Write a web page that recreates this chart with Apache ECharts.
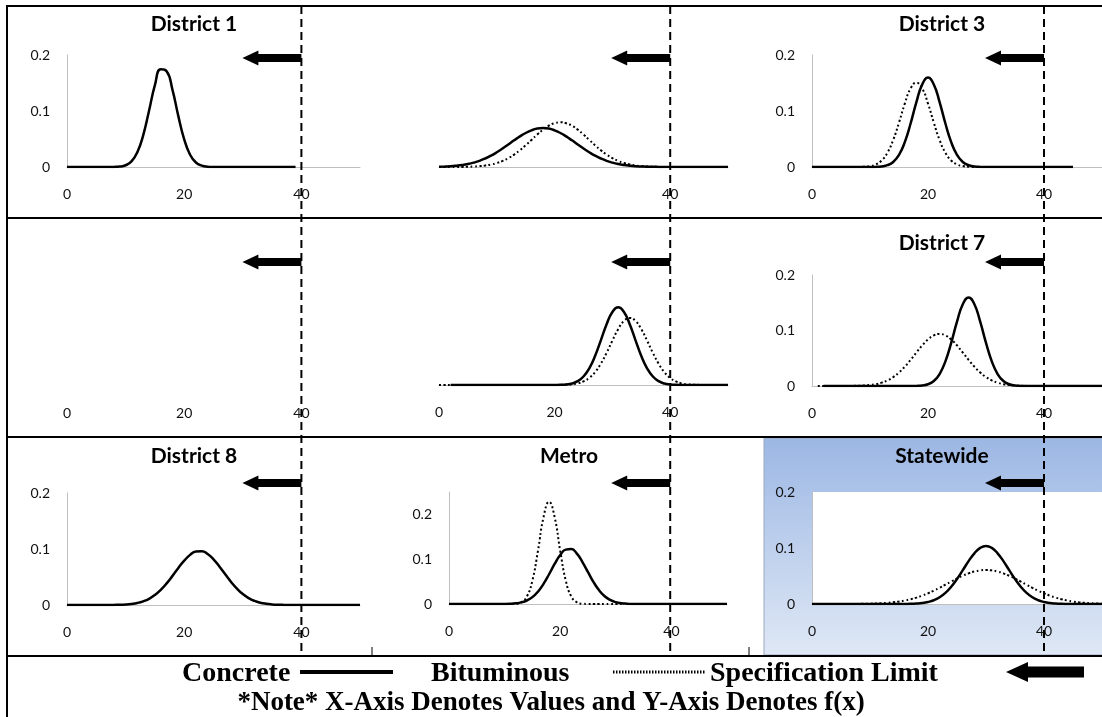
<!DOCTYPE html>
<html>
<head>
<meta charset="utf-8">
<script src="https://cdn.jsdelivr.net/npm/echarts@6/dist/echarts.min.js"></script>
<style>
html, body { margin: 0; padding: 0; background: #fff; }
#chart { width: 1102px; height: 717px; }
</style>
</head>
<body>
<div id="chart"></div>
<script>
// x values shared by every panel
var xs = [0,1,2,3,4,5,6,7,8,9,10,11,12,13,14,15,16,17,18,19,20,21,22,23,24,25,26,27,28,29,30,31,32,33,34,35,36,37,38,39,40,41,42,43,44,45,46,47,48,49,50];
var specLimit = 40;
var xTicks = [0, 20, 40];

// f(x) (null = no line there)
var d1Concrete = [0,0,0,0,0,0,0,0,0.0002,0.0008,0.0031,0.0099,0.0262,0.0566,0.1004,0.1461,0.1745,0.1711,0.1377,0.0909,0.0493,0.0219,0.0080,0.0024,0.0006,0.0001,0,0,0,0,0,0,0,0,0,0,0,0,0,0];

var d2Concrete = [0.0005,0.0009,0.0014,0.0023,0.0035,0.0053,0.0078,0.0110,0.0152,0.0203,0.0263,0.0330,0.0402,0.0476,0.0546,0.0607,0.0655,0.0686,0.0696,0.0686,0.0655,0.0607,0.0546,0.0476,0.0402,0.0330,0.0263,0.0203,0.0152,0.0110,0.0078,0.0053,0.0035,0.0023,0.0014,0.0009,0.0005,0.0003,0.0002,0.0001,0,0,0,0,0,0,0,0,0,0,0];
var d2Bitum = [0,0,0,0.0001,0.0002,0.0005,0.0009,0.0016,0.0027,0.0045,0.0071,0.0108,0.0158,0.0222,0.0299,0.0388,0.0484,0.0579,0.0667,0.0737,0.0782,0.0798,0.0782,0.0737,0.0667,0.0579,0.0484,0.0388,0.0299,0.0222,0.0158,0.0108,0.0071,0.0045,0.0027,0.0016,0.0009,0.0005,0.0002,0.0001,0];

var d3Concrete = [0,0,0,0,0,0,0,0,0,0,0,0.0002,0.0010,0.0032,0.0090,0.0216,0.0444,0.0777,0.1159,0.1473,0.1596,0.1473,0.1159,0.0777,0.0444,0.0216,0.0090,0.0032,0.0010,0.0002,0,0,0,0,0,0,0,0,0,0,0,0,0,0,0,0];
var d3Bitum = [null,null,null,null,null,null,null,null,0.0001,0.0005,0.0016,0.0046,0.0116,0.0254,0.0482,0.0793,0.1132,0.1402,0.1505,0.1402,0.1132,0.0793,0.0482,0.0254,0.0116,0.0046,0.0016,0.0005,0.0001];

var r2Concrete = [null,null,0,0,0,0,0,0,0,0,0,0,0,0,0,0,0,0,0,0,0.0001,0.0003,0.0010,0.0027,0.0069,0.0153,0.0300,0.0523,0.0805,0.1095,0.1316,0.1400,0.1316,0.1095,0.0805,0.0523,0.0300,0.0153,0.0069,0.0027,0.0010,0.0003,0.0001,0,0,0,0,0,0,0,0];
var r2Bitum = [0,0,0,0,0,0,0,0,0,0,0,0,0,0,0,0,0,0,0,0,0,0.0002,0.0005,0.0012,0.0029,0.0064,0.0127,0.0232,0.0384,0.0580,0.0800,0.1006,0.1155,0.1209,0.1155,0.1006,0.0800,0.0580,0.0384,0.0232,0.0127,0.0064,0.0029,0.0012,0.0005,0.0002,0,0,0,0,0];

var d7Concrete = [null,null,0,0,0,0,0,0,0,0,0,0,0,0,0,0,0,0,0.0002,0.0010,0.0032,0.0090,0.0216,0.0444,0.0777,0.1159,0.1473,0.1596,0.1473,0.1159,0.0777,0.0444,0.0216,0.0090,0.0032,0.0010,0.0002,0,0,0,0,0,0,0,0,0,0,0,0,0,0];
var d7Bitum = [null,0,0,0,0,0,0.0001,0.0002,0.0004,0.0009,0.0018,0.0033,0.0060,0.0101,0.0161,0.0243,0.0348,0.0471,0.0603,0.0731,0.0839,0.0912,0.0937,0.0912,0.0839,0.0731,0.0603,0.0471,0.0348,0.0243,0.0161,0.0101,0.0060,0.0033,0.0018,0.0009,0.0004,0.0002,0.0001,0,0,0,0,0,0,0,0,0,0,0,0];

var d8Concrete = [0,0,0,0,0,0,0,0.0001,0.0002,0.0004,0.0009,0.0019,0.0036,0.0066,0.0111,0.0179,0.0271,0.0386,0.0520,0.0661,0.0791,0.0895,0.0954,0.0959,0.0910,0.0815,0.0688,0.0548,0.0412,0.0292,0.0195,0.0123,0.0073,0.0041,0.0022,0.0011,0.0005,0.0002,0.0001,0,0,0,0,0,0,0,0,0,0,0,0];

var metroConcrete = [0,0,0,0,0,0,0,0,0,0.0001,0.0002,0.0006,0.0015,0.0036,0.0078,0.0153,0.0275,0.0448,0.0664,0.0893,0.1092,0.1214,0.1226,0.1124,0.0937,0.0710,0.0488,0.0305,0.0174,0.0090,0.0042,0.0018,0.0007,0.0002,0.0001,0,0,0,0,0,0,0,0,0,0,0,0,0,0,0,0];
var metroBitum = [0,0,0,0,0,0,0,0,0,0,0,0.0001,0.0006,0.0039,0.0167,0.0525,0.1187,0.1936,0.2280,0.1936,0.1187,0.0525,0.0167,0.0039,0.0006,0.0001,0,0,0,0,0,0];

var stateConcrete = [0,0,0,0,0,0,0,0,0,0,0,0,0,0,0,0,0.0001,0.0003,0.0008,0.0017,0.0036,0.0067,0.0120,0.0198,0.0308,0.0446,0.0604,0.0765,0.0905,0.1002,0.1036,0.1002,0.0905,0.0765,0.0604,0.0446,0.0308,0.0198,0.0120,0.0067,0.0036,0.0017,0.0008,0.0003,0.0001,0,0,0,0,0,0];
var stateBitum = [0,0,0,0,0,0,0,0.0001,0.0002,0.0004,0.0006,0.0009,0.0014,0.0021,0.0031,0.0045,0.0063,0.0086,0.0114,0.0149,0.0191,0.0238,0.0289,0.0344,0.0400,0.0454,0.0504,0.0547,0.0580,0.0600,0.0607,0.0600,0.0580,0.0547,0.0504,0.0454,0.0400,0.0344,0.0289,0.0238,0.0191,0.0149,0.0114,0.0086,0.0063,0.0045,0.0031,0.0021,0.0014,0.0009,0.0006];

var titles = ['District 1', '', 'District 3', '', '', 'District 7', 'District 8', 'Metro', 'Statewide'];

// panel layout (pixels)
var panels = [
  { left: 67,  top: 55,  width: 293, height: 112, yMax: 0.2,  showY: true,  xLine: true,  labels: 'all', concrete: d1Concrete, bitum: null },
  { left: 439, top: 55,  width: 289, height: 112, yMax: 0.2,  showY: false, xLine: true,  labels: '40',  concrete: d2Concrete, bitum: d2Bitum },
  { left: 812, top: 55,  width: 290, height: 112, yMax: 0.2,  showY: true,  xLine: true,  labels: 'all', concrete: d3Concrete, bitum: d3Bitum },
  { left: 67,  top: 275, width: 293, height: 111, yMax: 0.2,  showY: false, xLine: false, labels: 'all', concrete: null, bitum: null },
  { left: 439, top: 274, width: 289, height: 111, yMax: 0.2,  showY: false, xLine: true,  labels: 'all', concrete: r2Concrete, bitum: r2Bitum },
  { left: 812, top: 275, width: 290, height: 111, yMax: 0.2,  showY: true,  xLine: true,  labels: 'all', concrete: d7Concrete, bitum: d7Bitum },
  { left: 67,  top: 493, width: 293, height: 112, yMax: 0.2,  showY: true,  xLine: true,  labels: 'all', concrete: d8Concrete, bitum: null },
  { left: 449, top: 492, width: 278, height: 112, yMax: 0.25, showY: true,  xLine: true,  labels: 'all', concrete: metroConcrete, bitum: metroBitum },
  { left: 812, top: 492, width: 290, height: 112, yMax: 0.2,  showY: true,  xLine: true,  labels: 'all', concrete: stateConcrete, bitum: stateBitum, white: true }
];

var rowTop = [6, 218, 437, 656];
var titleY = [24, 243, 456];
var arrowY = [58, 262, 483];
var colTitleX = [194, 569, 942];

function toPairs(ys) {
  var out = [];
  for (var i = 0; i < ys.length; i++) {
    if (ys[i] != null) out.push([xs[i], ys[i]]);
  }
  return out;
}

var grids = [], xAxes = [], yAxes = [], series = [];
panels.forEach(function (p, i) {
  grids.push({
    left: p.left, top: p.top, width: p.width, height: p.height,
    outerBoundsMode: 'none', containLabel: false,
    show: !!p.white, backgroundColor: '#fff', borderWidth: 0
  });
  xAxes.push({
    gridIndex: i, type: 'value', min: 0, max: 50, interval: 20,
    axisLine: { show: p.xLine, lineStyle: { color: '#bfbfbf', width: 1 } },
    axisTick: { show: false }, splitLine: { show: false },
    axisLabel: {
      margin: 20, color: '#111', fontFamily: 'Lato', fontSize: 14, showMaxLabel: false,
      formatter: function (v) {
        if (xTicks.indexOf(v) < 0) return '';
        if (p.labels === '40' && v !== specLimit) return '';
        return String(v);
      }
    }
  });
  yAxes.push({
    gridIndex: i, type: 'value', min: 0, max: p.yMax, interval: 0.1, show: p.showY,
    axisLine: { show: true, lineStyle: { color: '#bfbfbf', width: 1 } },
    axisTick: { show: false }, splitLine: { show: false },
    axisLabel: { margin: 17, color: '#111', fontFamily: 'Lato', fontSize: 14, showMaxLabel: p.yMax === 0.2 }
  });
  if (p.concrete) {
    series.push({
      type: 'line', name: 'Concrete', xAxisIndex: i, yAxisIndex: i, data: toPairs(p.concrete),
      smooth: 0.5, symbol: 'none', silent: true, z: 2,
      lineStyle: { color: '#000', width: 2.5 }
    });
  }
  if (p.bitum) {
    series.push({
      type: 'line', name: 'Bituminous', xAxisIndex: i, yAxisIndex: i, data: toPairs(p.bitum),
      smooth: 0.5, symbol: 'none', silent: true, z: 3,
      lineStyle: { color: '#000', width: 2, type: [2, 2.5] }
    });
  }
});

var chart = echarts.init(document.getElementById('chart'));
chart.setOption({
  animation: false,
  backgroundColor: '#fff',
  grid: grids,
  xAxis: xAxes,
  yAxis: yAxes,
  series: series
});

// spec-limit position per column
var specX = [0, 1, 2].map(function (g) {
  return chart.convertToPixel({ gridIndex: g }, [specLimit, 0])[0];
});

function arrow(tipX, tailX, cy, headLen, headHalf, shaftHalf) {
  var hb = tipX + headLen;
  return {
    type: 'polygon', z: 20,
    shape: { points: [[tailX, cy - shaftHalf], [hb, cy - shaftHalf], [hb, cy - headHalf], [tipX, cy], [hb, cy + headHalf], [hb, cy + shaftHalf], [tailX, cy + shaftHalf]] },
    style: { fill: '#000' }
  };
}

var graphic = [];
// Statewide cell background
graphic.push({
  type: 'rect', z: -10,
  shape: { x: 764, y: 438, width: 340, height: 217 },
  style: {
    fill: new echarts.graphic.LinearGradient(0, 0, 0, 1, [
      { offset: 0, color: '#9cb7e4' },
      { offset: 1, color: '#dfe8f5' }
    ]),
    stroke: '#9aa9c0', lineWidth: 1
  }
});
// frame
graphic.push({ type: 'line', z: 15, shape: { x1: 7, y1: 6, x2: 7, y2: 717 }, style: { stroke: '#000', lineWidth: 2 } });
rowTop.forEach(function (y) {
  graphic.push({ type: 'line', z: 15, shape: { x1: 6, y1: y, x2: 1102, y2: y }, style: { stroke: '#000', lineWidth: 2 } });
});
[372, 749].forEach(function (x) {
  graphic.push({ type: 'line', z: 15, shape: { x1: x, y1: 647, x2: x, y2: 656 }, style: { stroke: '#000', lineWidth: 1 } });
});
// spec limit dashed lines and arrows
specX.forEach(function (sx) {
  graphic.push({ type: 'line', z: 16, shape: { x1: sx, y1: 6, x2: sx, y2: 656 }, style: { stroke: '#000', lineWidth: 2, lineDash: [8, 5] } });
  arrowY.forEach(function (cy) {
    graphic.push(arrow(sx - 59, sx, cy, 16, 7.5, 4));
  });
});
// panel titles
titles.forEach(function (t, i) {
  if (!t) return;
  graphic.push({
    type: 'text', z: 20,
    style: { text: t, x: colTitleX[i % 3], y: titleY[Math.floor(i / 3)], align: 'center', verticalAlign: 'middle', font: 'bold 21px Lato', fill: '#000' }
  });
});
// legend row
var legendFont = 'bold 28px "Liberation Serif"';
graphic.push({ type: 'text', z: 20, style: { text: 'Concrete', x: 182, y: 674, verticalAlign: 'middle', font: legendFont, fill: '#000' } });
graphic.push({ type: 'line', z: 20, shape: { x1: 300, y1: 672, x2: 393, y2: 672 }, style: { stroke: '#000', lineWidth: 4 } });
graphic.push({ type: 'text', z: 20, style: { text: 'Bituminous', x: 431, y: 674, verticalAlign: 'middle', font: legendFont, fill: '#000' } });
graphic.push({ type: 'line', z: 20, shape: { x1: 613, y1: 672, x2: 706, y2: 672 }, style: { stroke: '#000', lineWidth: 3, lineDash: [1.5, 1.5] } });
graphic.push({ type: 'text', z: 20, style: { text: 'Specification Limit', x: 710, y: 674, verticalAlign: 'middle', font: legendFont, fill: '#000' } });
graphic.push(arrow(1006, 1084, 672, 22, 10, 5.5));
graphic.push({ type: 'text', z: 20, style: { text: '*Note* X-Axis Denotes Values and Y-Axis Denotes f(x)', x: 551, y: 703, align: 'center', verticalAlign: 'middle', font: 'bold 27px "Liberation Serif"', fill: '#000' } });

chart.setOption({ graphic: graphic });
</script>
</body>
</html>
